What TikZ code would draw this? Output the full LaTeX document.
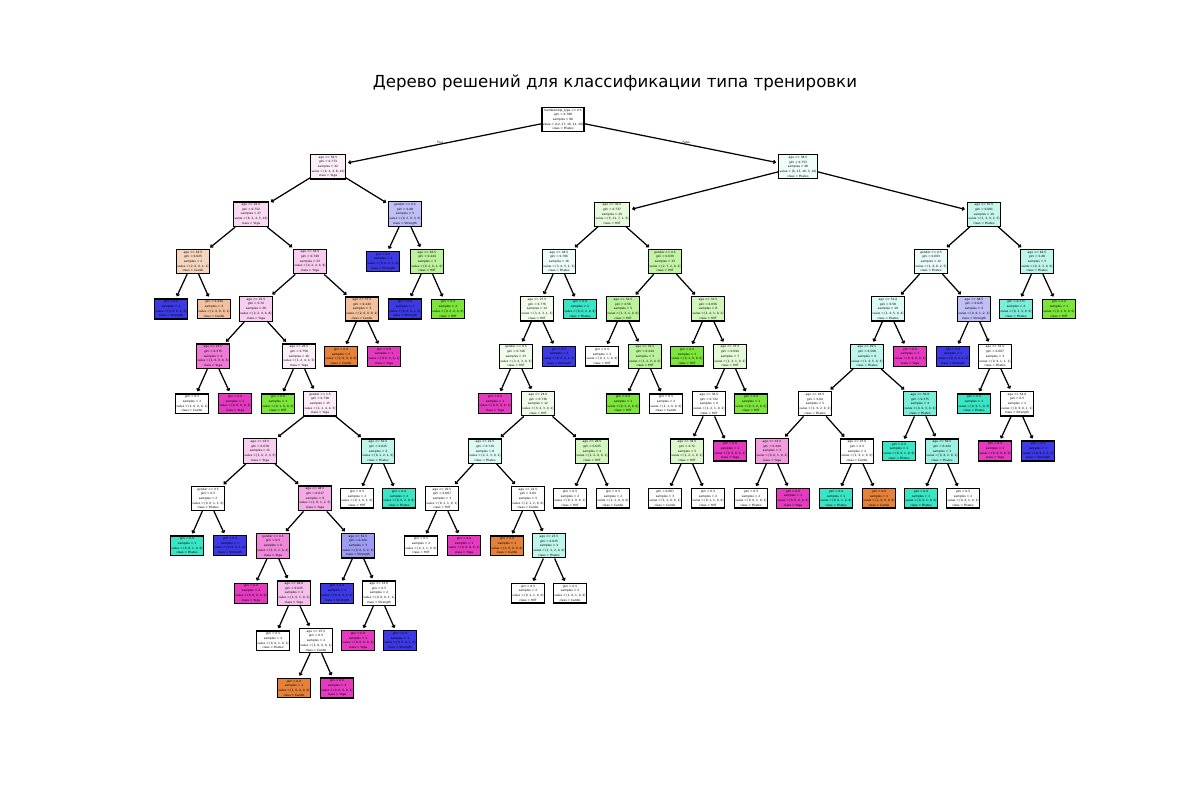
\documentclass[tikz,border=0pt]{standalone}
\usepackage{fontspec}
\setmainfont{DejaVu Sans}
\usetikzlibrary{arrows.meta,calc}
\definecolor{cC}{RGB}{229,129,57}
\definecolor{cH}{RGB}{123,229,57}
\definecolor{cP}{RGB}{57,229,197}
\definecolor{cS}{RGB}{60,57,229}
\definecolor{cY}{RGB}{229,57,192}
\newcommand{\TI}[5]{#1\\gini = #2\\samples = #3\\value = [#4]\\class = #5}
\newcommand{\TL}[4]{gini = #1\\samples = #2\\value = [#3]\\class = #4}
\tikzset{
  tn/.style={draw=black, fill=white, line width=0.9pt, align=center, inner xsep=0.6pt, inner ysep=1.1pt,
    font=\fontsize{2.1}{3.4}\selectfont, text=black},
  ed/.style={line width=0.9pt, -{Straight Barb[length=1.3pt,width=2.4pt]}, shorten >=1.5pt},
  lbl/.style={font=\fontsize{2.1}{2.5}\selectfont, inner sep=0pt},
}
\begin{document}
\begin{tikzpicture}[x=0.01in, y=-0.01in]
\useasboundingbox (0,0) rectangle (1200,800);
\node[font=\fontsize{12}{14}\selectfont, anchor=base, inner sep=0pt] (title) at (615,87.7) {Дерево решений для классификации типа тренировки};
% depth 0-2
\node[tn] (t0) at (563,119.4) {\TI{membership\_type <= 0.5}{0.788}{80}{12, 17, 20, 11, 20}{Pilates}};
\node[tn,fill=cY!8!white] (t1) at (328,166.8) {\TI{age <= 59.5}{0.773}{32}{6, 4, 4, 8, 10}{Yoga}};
\node[tn,fill=cP!9!white] (t2) at (798,166.8) {\TI{age <= 38.5}{0.753}{48}{6, 13, 16, 3, 10}{Pilates}};
\node[tn,fill=cY!19!white] (t3) at (251,214.2) {\TI{age <= 22.5}{0.752}{27}{6, 2, 4, 5, 10}{Yoga}};
\node[tn,fill=cS!33!white] (t4) at (405,214.2) {\TI{gender <= 0.5}{0.48}{5}{0, 2, 0, 3, 0}{Strength}};
\node[tn,fill=cH!18!white] (t5) at (612,214.2) {\TI{age <= 30.5}{0.737}{29}{5, 11, 7, 1, 5}{HIIT}};
\node[tn,fill=cP!29!white] (t6) at (984,214.2) {\TI{age <= 55.5}{0.681}{19}{1, 2, 9, 2, 5}{Pilates}};
% depth 3
\node[tn,fill=cC!33!white] (t7) at (193,261.5) {\TI{age <= 19.5}{0.625}{4}{2, 0, 0, 1, 1}{Cardio}};
\node[tn,fill=cY!26!white] (t8) at (310,261.5) {\TI{age <= 54.5}{0.749}{23}{4, 2, 4, 4, 9}{Yoga}};
\node[tn,fill=cS] (t9) at (383,261.5) {\TL{0.0}{2}{0, 0, 0, 2, 0}{Strength}};
\node[tn,fill=cH!50!white] (t10) at (427,261.5) {\TI{age <= 63.5}{0.444}{3}{0, 2, 0, 1, 0}{HIIT}};
\node[tn,fill=cP!8!white] (t11) at (559,261.5) {\TI{age <= 28.5}{0.766}{16}{3, 4, 5, 1, 3}{Pilates}};
\node[tn,fill=cH!45!white] (t12) at (665,261.5) {\TI{gender <= 0.5}{0.639}{13}{2, 7, 2, 0, 2}{HIIT}};
\node[tn,fill=cP!11!white] (t13) at (931,261.5) {\TI{gender <= 0.5}{0.663}{14}{1, 0, 6, 2, 5}{Pilates}};
\node[tn,fill=cP!33!white] (t14) at (1037,261.5) {\TI{age <= 62.5}{0.48}{5}{0, 2, 3, 0, 0}{Pilates}};
% depth 4
\node[tn,fill=cS] (t15) at (171,308.9) {\TL{0.0}{1}{0, 0, 0, 1, 0}{Strength}};
\node[tn,fill=cC!50!white] (t16) at (214,308.9) {\TL{0.444}{3}{2, 0, 0, 0, 1}{Cardio}};
\node[tn,fill=cY!25!white] (t17) at (256,308.9) {\TI{age <= 25.5}{0.74}{20}{2, 2, 4, 4, 8}{Yoga}};
\node[tn,fill=cC!50!white] (t18) at (362,308.9) {\TI{age <= 57.5}{0.444}{3}{2, 0, 0, 0, 1}{Cardio}};
\node[tn,fill=cS] (t19) at (405,308.9) {\TL{0.0}{1}{0, 0, 0, 1, 0}{Strength}};
\node[tn,fill=cH] (t20) at (448,308.9) {\TL{0.0}{2}{0, 2, 0, 0, 0}{HIIT}};
\node[tn,fill=cH!9!white] (t21) at (537,308.9) {\TI{age <= 27.5}{0.776}{14}{3, 4, 3, 1, 3}{HIIT}};
\node[tn,fill=cP] (t22) at (580,308.9) {\TL{0.0}{2}{0, 0, 2, 0, 0}{Pilates}};
\node[tn,fill=cH!50!white] (t23) at (623,308.9) {\TI{age <= 32.5}{0.56}{5}{1, 3, 1, 0, 0}{HIIT}};
\node[tn,fill=cH!33!white] (t24) at (708,308.9) {\TI{age <= 31.5}{0.656}{8}{1, 4, 1, 0, 2}{HIIT}};
\node[tn,fill=cP!17!white] (t25) at (888,308.9) {\TI{age <= 51.0}{0.58}{10}{1, 0, 5, 0, 4}{Pilates}};
\node[tn,fill=cS!33!white] (t26) at (974,308.9) {\TI{age <= 48.5}{0.625}{4}{0, 0, 1, 2, 1}{Strength}};
\node[tn,fill=cP!67!white] (t106) at (1016,308.9) {\TL{0.375}{4}{0, 1, 3, 0, 0}{Pilates}};
\node[tn,fill=cH] (t107) at (1059,308.9) {\TL{0.0}{1}{0, 1, 0, 0, 0}{HIIT}};
% depth 5
\node[tn,fill=cY!67!white] (t27) at (213,356.3) {\TI{age <= 23.5}{0.375}{4}{1, 0, 0, 0, 3}{Yoga}};
\node[tn,fill=cY!8!white] (t28) at (299,356.3) {\TI{age <= 26.5}{0.758}{16}{1, 2, 4, 4, 5}{Yoga}};
\node[tn,fill=cC] (t29) at (341,356.3) {\TL{0.0}{2}{2, 0, 0, 0, 0}{Cardio}};
\node[tn,fill=cY] (t30) at (384,356.3) {\TL{0.0}{1}{0, 0, 0, 0, 1}{Yoga}};
\node[tn,fill=cH!10!white] (t31) at (516,356.3) {\TI{gender <= 0.5}{0.746}{13}{3, 4, 3, 0, 3}{HIIT}};
\node[tn,fill=cS] (t32) at (559,356.3) {\TL{0.0}{1}{0, 0, 0, 1, 0}{Strength}};
\node[tn] (t33) at (602,356.3) {\TL{0.5}{2}{0, 1, 1, 0, 0}{HIIT}};
\node[tn,fill=cH!50!white] (t34) at (645,356.3) {\TI{age <= 35.5}{0.444}{3}{1, 2, 0, 0, 0}{HIIT}};
\node[tn,fill=cH] (t43) at (687,356.3) {\TL{0.0}{1}{0, 1, 0, 0, 0}{HIIT}};
\node[tn,fill=cH!20!white] (t44) at (730,356.3) {\TI{age <= 37.5}{0.694}{7}{1, 3, 1, 0, 2}{HIIT}};
\node[tn,fill=cP!33!white] (t86) at (867,356.3) {\TI{age <= 49.5}{0.568}{9}{1, 0, 5, 0, 3}{Pilates}};
\node[tn,fill=cY] (t87) at (910,356.3) {\TL{0.0}{1}{0, 0, 0, 0, 1}{Yoga}};
\node[tn,fill=cS] (t100) at (953,356.3) {\TL{0.0}{1}{0, 0, 0, 1, 0}{Strength}};
\node[tn] (t101) at (995,356.3) {\TI{age <= 52.5}{0.667}{3}{0, 0, 1, 1, 1}{Pilates}};
% depth 6
\node[tn] (t35) at (192,403.7) {\TL{0.5}{2}{1, 0, 0, 0, 1}{Cardio}};
\node[tn,fill=cY] (t36) at (235,403.7) {\TL{0.0}{2}{0, 0, 0, 0, 2}{Yoga}};
\node[tn,fill=cH] (t37) at (278,403.7) {\TL{0.0}{1}{0, 1, 0, 0, 0}{HIIT}};
\node[tn,fill=cY!9!white] (t38) at (320,403.7) {\TI{gender <= 1.5}{0.738}{15}{1, 1, 4, 4, 5}{Yoga}};
\node[tn,fill=cY] (t39) at (495,403.7) {\TL{0.0}{1}{0, 0, 0, 0, 1}{Yoga}};
\node[tn,fill=cH!11!white] (t40) at (538,403.7) {\TI{age <= 24.0}{0.736}{12}{3, 4, 3, 0, 2}{HIIT}};
\node[tn,fill=cH] (t41) at (623,403.7) {\TL{0.0}{1}{0, 1, 0, 0, 0}{HIIT}};
\node[tn] (t42) at (666,403.7) {\TL{0.5}{2}{1, 1, 0, 0, 0}{Cardio}};
\node[tn] (t49) at (709,403.7) {\TI{age <= 36.5}{0.722}{6}{1, 2, 1, 0, 2}{HIIT}};
\node[tn,fill=cH] (t50) at (751,403.7) {\TL{0.0}{1}{0, 1, 0, 0, 0}{HIIT}};
\node[tn] (t88) at (815,403.7) {\TI{age <= 44.5}{0.64}{5}{1, 0, 2, 0, 2}{Pilates}};
\node[tn,fill=cP!67!white] (t89) at (920,403.7) {\TI{age <= 50.0}{0.375}{4}{0, 0, 3, 0, 1}{Pilates}};
\node[tn,fill=cP] (t102) at (974,403.7) {\TL{0.0}{1}{0, 0, 1, 0, 0}{Pilates}};
\node[tn] (t103) at (1017,403.7) {\TI{age <= 54.0}{0.5}{2}{0, 0, 0, 1, 1}{Strength}};
% depth 7
\node[tn,fill=cY!25!white] (t45) at (260,451.1) {\TI{age <= 43.5}{0.678}{11}{1, 0, 2, 3, 5}{Yoga}};
\node[tn,fill=cP!33!white] (t46) at (378,451.1) {\TI{age <= 50.5}{0.625}{4}{0, 1, 2, 1, 0}{Pilates}};
\node[tn,fill=cP!17!white] (t47) at (485,451.1) {\TI{age <= 21.5}{0.719}{8}{2, 2, 3, 0, 1}{Pilates}};
\node[tn,fill=cH!33!white] (t48) at (592,451.1) {\TI{age <= 26.5}{0.625}{4}{1, 2, 0, 0, 1}{HIIT}};
\node[tn,fill=cH!25!white] (t82) at (687,451.1) {\TI{age <= 34.5}{0.72}{5}{1, 2, 1, 0, 1}{HIIT}};
\node[tn,fill=cY] (t83) at (730,451.1) {\TL{0.0}{1}{0, 0, 0, 0, 1}{Yoga}};
\node[tn,fill=cY!50!white] (t90) at (772,451.1) {\TI{age <= 41.5}{0.444}{3}{0, 0, 1, 0, 2}{Yoga}};
\node[tn] (t91) at (857,451.1) {\TI{age <= 47.0}{0.5}{2}{1, 0, 1, 0, 0}{Cardio}};
\node[tn,fill=cP] (t92) at (899,451.1) {\TL{0.0}{1}{0, 0, 1, 0, 0}{Pilates}};
\node[tn,fill=cP!50!white] (t93) at (942,451.1) {\TI{age <= 50.5}{0.444}{3}{0, 0, 2, 0, 1}{Pilates}};
\node[tn,fill=cY] (t104) at (995,451.1) {\TL{0.0}{1}{0, 0, 0, 0, 1}{Yoga}};
\node[tn,fill=cS] (t105) at (1038,451.1) {\TL{0.0}{1}{0, 0, 0, 1, 0}{Strength}};
% depth 8
\node[tn] (t53) at (208,498.4) {\TI{gender <= 0.5}{0.5}{2}{0, 0, 1, 1, 0}{Pilates}};
\node[tn,fill=cY!43!white] (t54) at (315,498.4) {\TI{age <= 48.5}{0.617}{9}{1, 0, 1, 2, 5}{Yoga}};
\node[tn] (t55) at (357,498.4) {\TL{0.5}{2}{0, 1, 0, 1, 0}{HIIT}};
\node[tn,fill=cP] (t56) at (399,498.4) {\TL{0.0}{2}{0, 0, 2, 0, 0}{Pilates}};
\node[tn] (t57) at (442,498.4) {\TI{age <= 20.5}{0.667}{3}{0, 1, 1, 0, 1}{HIIT}};
\node[tn] (t58) at (528,498.4) {\TI{age <= 22.5}{0.64}{5}{2, 1, 2, 0, 0}{Cardio}};
\node[tn] (t80) at (570,498.4) {\TL{0.5}{2}{0, 1, 0, 0, 1}{HIIT}};
\node[tn] (t81) at (613,498.4) {\TL{0.5}{2}{1, 1, 0, 0, 0}{Cardio}};
\node[tn] (t84) at (665,498.4) {\TL{0.667}{3}{1, 1, 0, 0, 1}{Cardio}};
\node[tn] (t85) at (708,498.4) {\TL{0.5}{2}{0, 1, 1, 0, 0}{HIIT}};
\node[tn] (t94) at (751,498.4) {\TL{0.5}{2}{0, 0, 1, 0, 1}{Pilates}};
\node[tn,fill=cY] (t95) at (793,498.4) {\TL{0.0}{1}{0, 0, 0, 0, 1}{Yoga}};
\node[tn,fill=cP] (t96) at (836,498.4) {\TL{0.0}{1}{0, 0, 1, 0, 0}{Pilates}};
\node[tn,fill=cC] (t97) at (879,498.4) {\TL{0.0}{1}{1, 0, 0, 0, 0}{Cardio}};
\node[tn,fill=cP] (t98) at (921,498.4) {\TL{0.0}{1}{0, 0, 1, 0, 0}{Pilates}};
\node[tn] (t99) at (963,498.4) {\TL{0.5}{2}{0, 0, 1, 0, 1}{Pilates}};
% depth 9
\node[tn,fill=cP] (t61) at (187,545.8) {\TL{0.0}{1}{0, 0, 1, 0, 0}{Pilates}};
\node[tn,fill=cS] (t62) at (230,545.8) {\TL{0.0}{1}{0, 0, 0, 1, 0}{Strength}};
\node[tn,fill=cY!60!white] (t63) at (273,545.8) {\TI{gender <= 0.5}{0.5}{6}{1, 0, 1, 0, 4}{Yoga}};
\node[tn,fill=cS!50!white] (t64) at (358,545.8) {\TI{age <= 51.5}{0.444}{3}{0, 0, 0, 2, 1}{Strength}};
\node[tn] (t65) at (421,545.8) {\TL{0.5}{2}{0, 1, 1, 0, 0}{HIIT}};
\node[tn,fill=cY] (t66) at (464,545.8) {\TL{0.0}{1}{0, 0, 0, 0, 1}{Yoga}};
\node[tn,fill=cC] (t59) at (507,545.8) {\TL{0.0}{1}{1, 0, 0, 0, 0}{Cardio}};
\node[tn,fill=cP!33!white] (t60) at (549,545.8) {\TI{age <= 23.5}{0.625}{4}{1, 1, 2, 0, 0}{Pilates}};
% depth 10
\node[tn,fill=cY] (t67) at (251,593.2) {\TL{0.0}{2}{0, 0, 0, 0, 2}{Yoga}};
\node[tn,fill=cY!33!white] (t68) at (294,593.2) {\TI{age <= 46.0}{0.625}{4}{1, 0, 1, 0, 2}{Yoga}};
\node[tn,fill=cS] (t69) at (337,593.2) {\TL{0.0}{1}{0, 0, 0, 1, 0}{Strength}};
\node[tn] (t70) at (379,593.2) {\TI{age <= 53.0}{0.5}{2}{0, 0, 0, 1, 1}{Strength}};
\node[tn] (t78) at (528,593.2) {\TL{0.5}{2}{0, 1, 1, 0, 0}{HIIT}};
\node[tn] (t79) at (570,593.2) {\TL{0.5}{2}{1, 0, 1, 0, 0}{Cardio}};
% depth 11
\node[tn] (t71) at (273,640.6) {\TL{0.5}{2}{0, 0, 1, 0, 1}{Pilates}};
\node[tn] (t72) at (316,640.6) {\TI{age <= 47.5}{0.5}{2}{1, 0, 0, 0, 1}{Cardio}};
\node[tn,fill=cY] (t73) at (358,640.6) {\TL{0.0}{1}{0, 0, 0, 0, 1}{Yoga}};
\node[tn,fill=cS] (t74) at (400,640.6) {\TL{0.0}{1}{0, 0, 0, 1, 0}{Strength}};
% depth 12
\node[tn,fill=cC] (t75) at (294,688.0) {\TL{0.0}{1}{1, 0, 0, 0, 0}{Cardio}};
\node[tn,fill=cY] (t76) at (337,688.0) {\TL{0.0}{1}{0, 0, 0, 0, 1}{Yoga}};
% edges
\foreach \a/\b in {t0/t1,t0/t2,t1/t3,t1/t4,t2/t5,t2/t6,t3/t7,t3/t8,t4/t9,t4/t10,t5/t11,t5/t12,t6/t13,t6/t14,
  t7/t15,t7/t16,t8/t17,t8/t18,t10/t19,t10/t20,t11/t21,t11/t22,t12/t23,t12/t24,t13/t25,t13/t26,t14/t106,t14/t107,
  t17/t27,t17/t28,t18/t29,t18/t30,t21/t31,t21/t32,t23/t33,t23/t34,t24/t43,t24/t44,t25/t86,t25/t87,t26/t100,t26/t101,
  t27/t35,t27/t36,t28/t37,t28/t38,t31/t39,t31/t40,t34/t41,t34/t42,t44/t49,t44/t50,t86/t88,t86/t89,t101/t102,t101/t103,
  t38/t45,t38/t46,t40/t47,t40/t48,t49/t82,t49/t83,t88/t90,t88/t91,t89/t92,t89/t93,t103/t104,t103/t105,
  t45/t53,t45/t54,t46/t55,t46/t56,t47/t57,t47/t58,t48/t80,t48/t81,t82/t84,t82/t85,t90/t94,t90/t95,t91/t96,t91/t97,t93/t98,t93/t99,
  t53/t61,t53/t62,t54/t63,t54/t64,t57/t65,t57/t66,t58/t59,t58/t60,
  t63/t67,t63/t68,t64/t69,t64/t70,t60/t78,t60/t79,t68/t71,t68/t72,t70/t73,t70/t74,t72/t75,t72/t76}
  \draw[ed] (\a) -- (\b);
\node[lbl, anchor=base east] (lt) at ($(t0.center)!0.5!(t1.center)+(-1.9,0)$) {True};
\node[lbl, anchor=base west] (lf) at ($(t0.center)!0.5!(t2.center)+(1.9,0)$) {False};
\end{tikzpicture}
\end{document}
